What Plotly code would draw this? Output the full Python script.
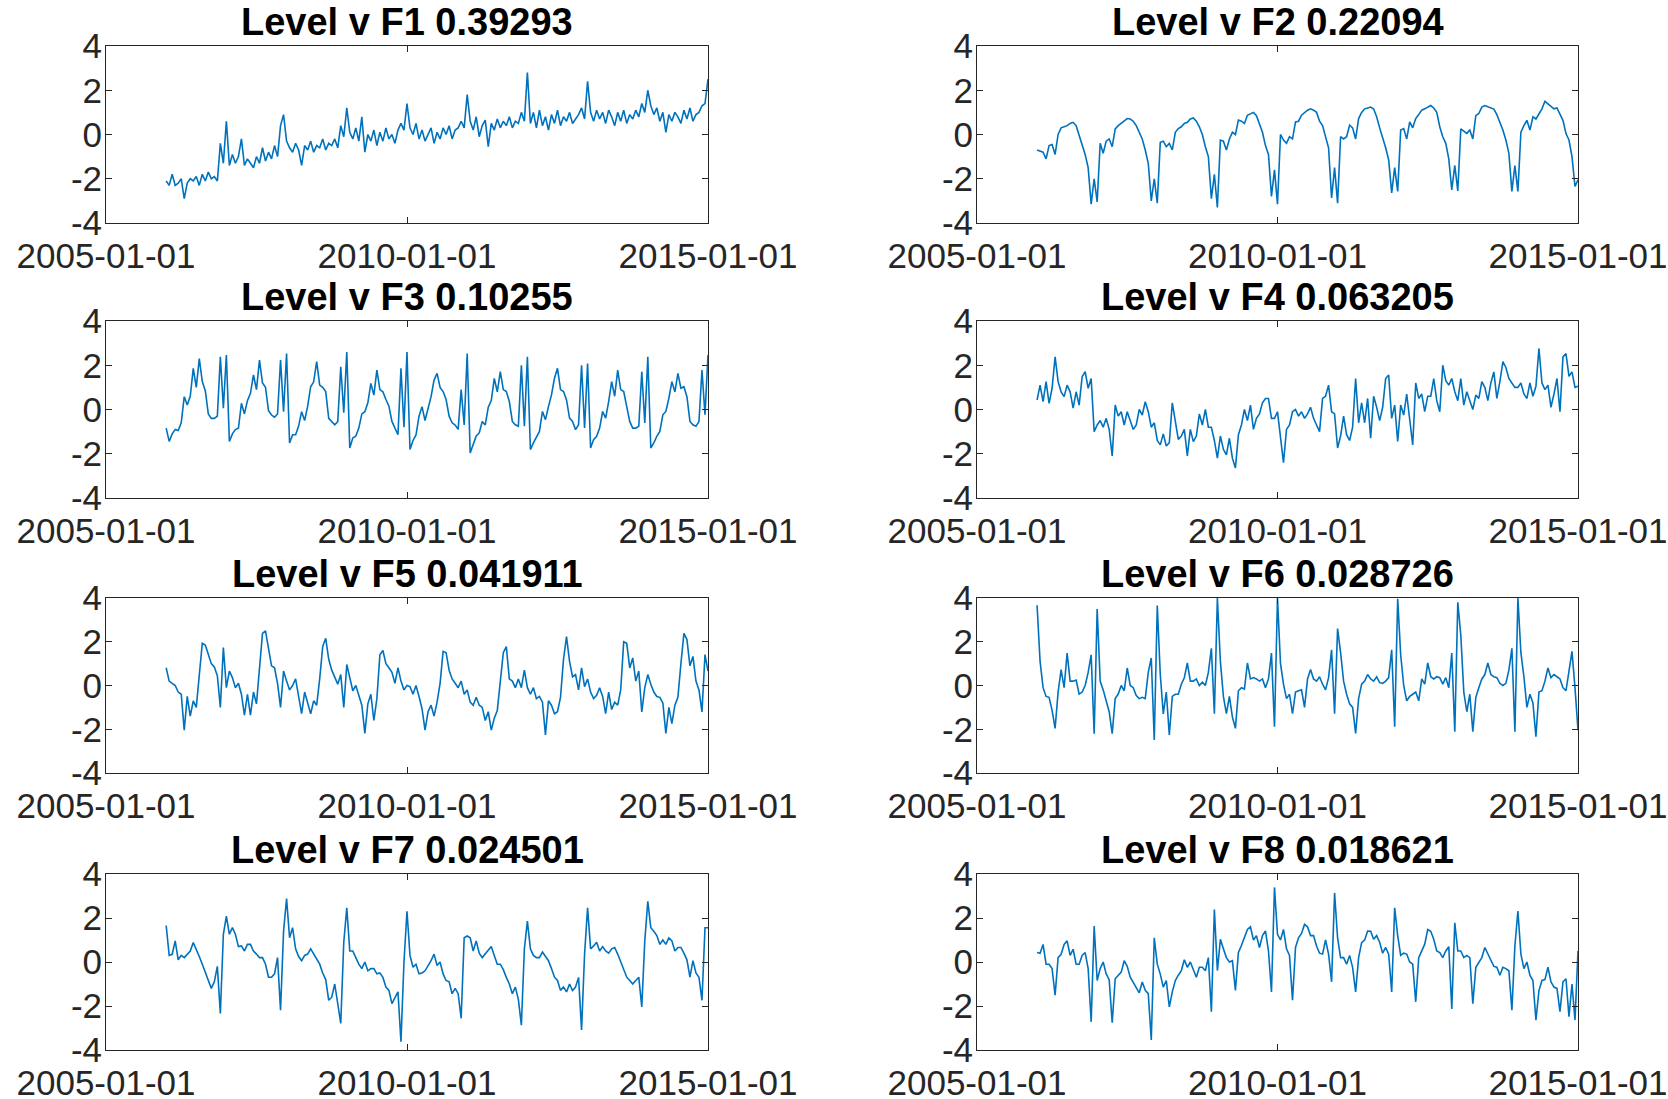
import plotly.graph_objects as go
import pandas as pd

# ---------------- data ----------------
DATA_START, DATA_END = "2006-01-01", "2015-01-01"
X_RANGE = ["2005-01-01", "2015-01-01"]
X_TICKS = ["2005-01-01", "2010-01-01", "2015-01-01"]
Y_TICKS = [-4, -2, 0, 2, 4]
Y_TICK_TEXT = ["-4", "-2", "0", "2", "4"]
TITLES = ["Level v F1 0.39293", "Level v F2 0.22094",
          "Level v F3 0.10255", "Level v F4 0.063205",
          "Level v F5 0.041911", "Level v F6 0.028726",
          "Level v F7 0.024501", "Level v F8 0.018621"]

f1 = [-2.1, -2.3, -1.8, -2.3, -2.2, -2.0, -2.9, -2.2, -2.0, -2.1, -1.9, -2.3, -1.8, -2.1, -1.7, -2.0, -1.9, -2.1, -0.4, -1.3,
      0.6, -1.4, -0.9, -1.3, -1.0, -0.2, -1.4, -1.1, -1.3, -1.5, -1.0, -1.3, -0.6, -1.2, -0.8, -1.1, -0.5, -1.0, 0.4, 0.9,
      -0.3, -0.6, -0.8, -0.4, -0.7, -1.4, -0.5, -0.7, -0.3, -0.8, -0.5, -0.6, -0.2, -0.7, -0.4, -0.5, -0.2, -0.6, 0.4, -0.1,
      1.2, 0.1, -0.2, 0.3, -0.3, 0.8, -0.8, 0.0, -0.3, 0.2, -0.5, 0.1, -0.3, 0.3, -0.2, 0.0, -0.4, 0.2, 0.5, 0.2,
      1.4, 0.3, 0.0, 0.5, -0.2, 0.2, -0.3, 0.0, 0.3, -0.4, 0.1, -0.2, 0.3, 0.0, 0.4, -0.2, 0.2, 0.3, 0.6, 0.3,
      1.8, 0.6, 0.2, 0.8, -0.1, 0.4, 0.65, -0.55, 0.5, 0.2, 0.7, 0.3, 0.6, 0.4, 0.8, 0.3, 0.6, 0.5, 1.0, 0.6,
      2.8, 0.5, 1.0, 0.3, 1.1, 0.4, 0.8, 0.2, 0.9, 0.5, 1.1, 0.4, 0.8, 0.6, 1.0, 0.5, 0.7, 0.9, 1.2, 0.7,
      2.4, 1.0, 0.6, 1.1, 0.7, 1.0, 0.5, 1.1, 0.8, 0.4, 1.0, 0.6, 1.1, 0.5, 0.9, 0.7, 1.1, 0.8, 1.4, 1.0,
      2.0, 1.3, 0.9, 1.2, 0.6, 1.0, 0.1, 0.9, 0.6, 1.0, 0.8, 0.5, 1.1, 0.7, 1.2, 0.6, 0.9, 1.0, 1.3, 1.4,
      2.5]

f2 = [-0.7, -0.75, -0.8, -1.1, -0.5, -0.45, -0.9, 0.0, 0.3, 0.35, 0.4, 0.5, 0.55, 0.4, 0.0, -0.4, -0.9, -1.5, -3.15, -2.0,
      -3.05, -0.4, -0.85, -0.3, -0.2, -0.55, 0.25, 0.4, 0.5, 0.6, 0.72, 0.7, 0.6, 0.4, 0.1, -0.2, -0.7, -1.3, -3.0, -2.0,
      -3.1, -0.35, -0.3, -0.55, -0.4, -0.7, 0.1, 0.27, 0.35, 0.5, 0.55, 0.7, 0.75, 0.6, 0.35, 0.0, -0.55, -1.0, -2.9, -1.8,
      -3.3, -0.25, -0.3, -0.7, -0.2, 0.1, 0.0, 0.65, 0.6, 0.5, 0.87, 0.95, 1.0, 0.85, 0.5, 0.1, -0.5, -0.9, -2.8, -1.6,
      -3.15, 0.0, -0.25, -0.4, -0.1, -0.2, 0.57, 0.6, 0.87, 1.0, 1.1, 1.16, 1.1, 1.0, 0.6, 0.4, -0.1, -0.6, -2.87, -1.5,
      -3.1, -0.1, -0.2, -0.1, 0.42, 0.3, -0.2, 0.72, 1.0, 1.16, 1.2, 1.24, 1.15, 0.8, 0.3, -0.1, -0.6, -1.15, -2.64, -1.5,
      -2.57, 0.2, 0.27, -0.2, 0.57, 0.3, 0.72, 0.9, 1.1, 1.16, 1.24, 1.31, 1.2, 1.0, 0.35, -0.1, -0.4, -1.1, -2.5, -1.4,
      -2.55, 0.25, 0.15, 0.05, 0.2, -0.2, 0.85, 0.95, 1.24, 1.31, 1.25, 1.2, 1.15, 0.9, 0.57, 0.2, -0.25, -0.85, -2.57, -1.4,
      -2.57, 0.1, 0.4, 0.64, 0.2, 0.8, 0.7, 0.9, 1.16, 1.5, 1.4, 1.3, 1.16, 1.2, 0.9, 0.64, 0.04, -0.25, -1.0, -2.35,
      -2.05]

f3 = [-0.84, -1.44, -1.1, -0.9, -0.95, -0.6, 0.58, 0.2, 0.6, 1.86, 1.0, 2.3, 1.26, 0.85, -0.2, -0.4, -0.4, -0.3, 2.38, 0.06,
      2.46, -1.44, -1.1, -0.91, -0.85, 0.28, -0.2, 0.4, 0.73, 1.56, 0.9, 2.23, 1.2, 1.0, -0.05, -0.25, -0.35, -0.2, 2.23, -0.1,
      2.53, -1.51, -1.14, -1.14, -0.75, -0.1, -0.5, 0.15, 1.03, 1.25, 2.16, 1.1, 1.0, 0.81, -0.4, -0.55, -0.69, -0.55, 1.93, -0.15,
      2.6, -1.74, -1.29, -1.2, -0.84, -0.2, -0.1, 0.3, 1.18, 0.65, 1.78, 0.9, 0.8, 0.45, 0.15, -0.54, -0.84, -1.14, 1.86, -0.8,
      2.6, -1.81, -1.4, -1.15, -0.3, 0.13, -0.5, 0.05, 0.58, 1.33, 1.63, 1.0, 0.81, 0.45, -0.3, -0.6, -0.7, -0.9, 0.9, -0.7,
      2.53, -1.96, -1.6, -1.2, -1.06, -0.54, -0.7, 0.1, 0.4, 1.41, 0.8, 1.71, 0.9, 0.81, 0.36, -0.54, -0.69, -0.76, 2.0, -0.76,
      2.38, -1.81, -1.51, -1.21, -0.99, -0.09, -0.46, 0.13, 0.66, 1.41, 1.86, 0.9, 0.81, 0.43, -0.39, -0.54, -0.91, -0.69, 2.0, -0.84,
      2.08, -1.74, -1.36, -1.21, -0.84, -0.09, -0.39, 0.36, 1.26, 0.6, 1.78, 0.9, 0.81, 0.13, -0.54, -0.84, -0.84, -0.76, 1.71, -0.61,
      2.38, -1.74, -1.51, -1.21, -0.99, -0.24, -0.09, 0.51, 1.26, 0.8, 1.63, 0.96, 1.03, 0.58, -0.54, -0.69, -0.76, -0.54, 1.78, -0.24,
      2.46]

f4 = [0.43, 1.1, 0.36, 1.26, 0.28, 0.96, 2.38, 1.26, 0.8, 0.58, 1.1, 0.8, 0.06, 0.8, 0.2, 1.48, 1.71, 0.96, 1.4, -1.0,
      -0.7, -0.5, -0.8, -0.4, -0.9, -2.1, 0.2, -0.3, -0.1, -0.7, -0.1, -0.55, -0.9, -0.7, 0.0, -0.25, 0.35, -0.1, -0.8, -0.6,
      -1.4, -1.6, -1.1, -1.65, -1.5, 0.3, -0.55, -1.35, -1.2, -0.9, -2.1, -0.9, -1.45, -1.2, -0.2, -0.7, 0.0, -0.8, -0.8, -1.4,
      -2.2, -1.2, -1.8, -2.05, -1.3, -2.2, -2.64, -1.14, -0.7, 0.0, -0.5, 0.2, -0.9, -0.4, -0.2, 0.3, 0.5, 0.5, -0.4, -0.4,
      -0.1, -1.3, -2.4, -0.9, -0.7, -0.1, 0.0, -0.3, -0.1, -0.4, -0.2, 0.1, -0.4, -0.7, -1.0, 0.5, 0.6, 1.1, -0.1, -0.2,
      -1.74, -1.2, -0.3, -1.14, -1.4, -0.8, 1.4, -0.6, 0.3, -0.6, 0.5, -1.3, 0.6, 0.1, -0.5, 0.1, 1.4, 1.56, -0.4, 0.2,
      -1.44, 0.2, -0.25, 0.7, -0.4, -1.6, 1.2, 0.5, 0.7, -0.1, 0.6, 0.6, 1.4, 0.4, -0.1, 2.0, 1.3, 1.1, 1.4, 0.8,
      0.4, 1.4, 0.2, 0.8, 0.4, 0.0, 0.65, 0.5, 1.26, 1.0, 0.4, 1.2, 1.7, 0.5, 1.26, 2.16, 1.9, 1.4, 1.2, 1.0,
      1.0, 1.2, 0.7, 0.5, 1.2, 0.6, 1.05, 2.76, 1.2, 0.9, 1.1, 0.1, 0.7, 1.4, -0.1, 2.38, 2.53, 1.5, 1.7, 1.0,
      1.05]

f5 = [0.81, 0.2, 0.1, 0.0, -0.3, -0.4, -2.04, -0.5, -1.4, -0.7, -1.0, 0.4, 1.93, 1.85, 1.4, 1.0, 0.85, 0.45, -1.0, 1.74,
      -0.1, 0.66, 0.36, -0.1, 0.1, -0.4, -1.36, -0.4, -1.36, -0.3, -0.84, 0.8, 2.38, 2.5, 1.6, 0.9, 0.81, 0.1, -1.0, 0.66,
      0.2, -0.2, 0.0, 0.3, -0.5, -1.29, -0.3, -0.84, -1.29, -0.7, -0.9, 0.3, 1.78, 2.16, 1.2, 0.7, 0.36, 0.06, 0.5, -1.0,
      0.96, 0.36, -0.24, 0.0, -0.4, -0.9, -2.19, -0.84, -0.4, -1.6, -0.6, 1.41, 1.6, 1.0, 0.81, 0.6, 0.1, 0.81, 0.2, -0.2,
      0.0, -0.05, -0.4, 0.0, -0.5, -1.06, -2.04, -1.2, -0.9, -1.4, -0.76, 0.1, 1.56, 1.5, 0.7, 0.3, 0.1, -0.1, 0.2, -0.4,
      -0.2, -0.76, -0.9, -0.54, -0.9, -1.0, -1.6, -1.2, -2.04, -1.5, -1.14, 0.1, 1.5, 1.78, 0.3, 0.2, -0.1, 0.3, -0.1, 0.7,
      -0.1, -0.4, -0.1, -0.6, -0.5, -0.76, -2.26, -0.7, -0.9, -1.29, -1.2, -0.54, 1.2, 2.23, 1.1, 0.4, 0.5, -0.2, 0.81, -0.05,
      0.3, -0.3, -0.6, -0.45, -0.1, -0.5, -1.29, -0.3, -1.1, -0.76, -0.9, -0.2, 2.0, 1.93, 0.8, 1.26, 0.2, 0.66, -1.21, -0.1,
      0.5, 0.06, -0.3, -0.5, -0.54, -0.8, -2.19, -1.0, -1.74, -0.9, -0.54, 1.0, 2.38, 2.1, 0.9, 1.33, 0.2, -0.2, -1.21, 1.41,
      0.66]

f6 = [3.67, 1.1, -0.1, -0.5, -0.54, -1.14, -1.96, -0.3, 0.73, -0.1, 1.48, 0.2, 0.2, 0.25, -0.4, -0.3, 0.0, 0.6, 1.4, -2.2,
      3.5, 0.2, -0.2, -0.7, -1.2, -2.2, -0.6, -0.39, 0.0, -0.24, 0.8, 0.0, -0.1, -0.46, -0.6, -0.54, -0.6, 0.6, 1.26, -2.49,
      3.66, 0.5, -1.3, -0.3, -2.26, -0.5, -0.4, -0.4, 0.06, 0.35, 1.03, 0.2, 0.2, 0.3, 0.0, 0.15, 0.0, 0.6, 1.7, -1.29,
      4.0, 1.1, -0.5, -1.29, -0.5, -1.44, -1.96, -0.24, -0.1, -0.16, 1.03, 0.3, 0.36, 0.3, 0.2, 0.3, -0.1, 0.3, 1.48, -1.89,
      4.0, 1.0, 0.06, -0.6, -0.4, -1.29, -0.3, -0.24, -0.2, -1.0, 0.3, 0.73, 0.3, 0.2, 0.4, 0.06, -0.2, 0.36, 1.63, -1.29,
      2.6, 1.5, 0.2, -0.4, -0.84, -1.0, -2.19, -0.6, 0.06, 0.2, 0.5, 0.3, 0.2, 0.4, 0.13, 0.1, 0.2, 0.36, 1.63, -1.89,
      3.96, 1.4, 0.0, -0.7, -0.5, -0.4, -0.3, -0.7, 0.3, 0.06, 1.03, 0.4, 0.3, 0.4, 0.36, 0.06, 0.36, -0.1, 1.48, -2.11,
      3.8, 2.3, -0.3, -1.2, -0.4, -2.11, -0.54, -0.1, 0.3, 0.5, 1.03, 0.5, 0.4, 0.36, 0.1, 0.0, 0.1, 0.7, 1.7, -2.11,
      4.0, 1.5, 0.4, -1.0, -0.4, -0.8, -2.34, -0.3, -0.24, 0.2, 0.8, 0.36, 0.5, 0.4, 0.3, -0.1, -0.24, 0.66, 1.56, -0.1,
      -2.04]

f7 = [1.66, 0.3, 0.35, 0.96, 0.1, 0.3, 0.2, 0.35, 0.5, 0.88, 0.6, 0.25, -0.1, -0.45, -0.8, -1.2, -0.9, -0.2, -2.34, 1.26,
      2.08, 1.26, 1.56, 1.26, 0.7, 0.73, 0.5, 0.8, 0.8, 0.5, 0.36, 0.2, 0.2, -0.1, -0.69, -0.69, -0.54, 0.2, -2.19, 1.4,
      2.88, 1.1, 1.56, 0.6, 0.25, 0.06, 0.3, 0.36, 0.6, 0.36, 0.1, -0.1, -0.5, -0.8, -1.74, -1.6, -1.0, -1.9, -2.79, 0.9,
      2.46, 0.5, 0.5, 0.2, -0.1, -0.3, 0.0, -0.4, -0.3, -0.3, -0.54, -0.5, -0.7, -1.14, -1.29, -1.89, -1.6, -1.36, -3.62, 0.0,
      2.31, 0.3, -0.24, -0.1, -0.54, -0.5, -0.4, -0.2, 0.06, 0.36, -0.16, 0.0, -0.54, -0.84, -0.9, -1.44, -1.2, -1.44, -2.56, 1.1,
      1.18, 1.1, 0.5, 0.96, 0.4, 0.2, 0.36, 0.5, 0.7, 0.3, -0.1, -0.1, -0.35, -0.7, -1.0, -1.44, -1.14, -1.7, -2.87, 0.6,
      1.86, 0.6, 0.3, 0.2, 0.2, 0.45, 0.25, 0.06, -0.3, -0.69, -0.84, -1.29, -1.14, -1.36, -1.0, -1.3, -1.14, -0.7, -3.09, 0.36,
      2.46, 0.6, 0.73, 0.9, 0.5, 0.7, 0.5, 0.4, 0.6, 0.66, 0.36, 0.0, -0.3, -0.69, -0.84, -1.0, -0.84, -0.69, -2.04, 0.96,
      2.76, 1.56, 1.4, 1.2, 0.8, 1.0, 0.8, 1.1, 0.96, 0.5, 0.66, 0.66, 0.4, 0.1, -0.69, 0.06, -0.5, -0.69, -1.74, 1.56,
      1.56]

f8 = [0.43, 0.4, 0.8, -0.1, -0.1, -0.3, -1.51, 0.2, 0.35, 0.8, 0.96, 0.3, 0.58, -0.1, -0.1, 0.3, 0.43, -0.3, -2.72, 1.63,
      -0.84, -0.3, 0.0, -0.54, -0.8, -2.76, -0.76, -0.6, -0.46, 0.06, -0.2, -0.69, -0.95, -1.14, -1.4, -0.91, -1.29, -1.44, -3.54, 1.1,
      -0.1, -0.55, -1.14, -0.84, -2.04, -1.36, -0.84, -0.6, -0.39, 0.1, -0.24, 0.0, -0.39, -0.69, -0.24, -0.24, -0.4, 0.2, -2.26, 2.38,
      -0.39, 1.03, 0.6, 0.2, 0.0, 0.06, -1.29, 0.43, 0.75, 1.1, 1.48, 1.6, 1.0, 1.2, 0.66, 1.2, 1.41, 0.5, -1.36, 3.39,
      1.26, 1.0, 1.48, 0.6, 0.3, -1.74, 0.66, 1.1, 1.3, 1.71, 1.6, 1.2, 1.2, 0.73, 0.4, 0.36, 1.0, 0.36, -0.9, 3.14,
      1.1, 0.2, 0.2, -0.1, 0.3, -0.24, -1.36, 0.2, 0.88, 1.0, 1.41, 1.4, 1.03, 1.2, 0.9, 0.4, 0.66, 0.36, -1.36, 2.46,
      1.2, 0.3, 0.4, 0.36, 0.0, -0.1, -1.81, 0.2, 0.5, 0.81, 1.48, 1.4, 1.03, 0.5, 0.43, 0.2, 0.5, 0.7, -2.14, 1.78,
      0.5, 0.5, 0.2, 0.3, 0.2, -1.89, -0.24, 0.0, 0.2, 0.66, 0.36, 0.06, -0.2, -0.24, -0.6, -0.24, -0.3, -0.4, -2.19, 0.73,
      2.31, 0.36, -0.3, 0.0, -0.6, -0.84, -2.64, -1.3, -0.84, -0.8, -0.24, -0.9, -1.14, -1.2, -2.26, -0.9, -0.76, -2.49, -1.0, -2.64,
      0.5]

SERIES = [f1, f2, f3, f4, f5, f6, f7, f8]

# ---------------- layout / style ----------------
W, H = 1668, 1099
COLS_PX = [(106, 708), (977, 1578)]
ROWS_PX = [(46, 223), (321, 498), (598, 773), (874, 1050)]
LINE_COLOR = "#0072BD"
AX_COLOR = "#262626"
FONT = "Liberation Sans, Arial, Helvetica, sans-serif"

fig = go.Figure()
annotations = []
for i, (vals, title) in enumerate(zip(SERIES, TITLES)):
    r, c = divmod(i, 2)
    sfx = "" if i == 0 else str(i + 1)
    dates = pd.date_range(DATA_START, DATA_END, periods=len(vals))
    fig.add_trace(go.Scatter(x=dates, y=vals, mode="lines",
                             line=dict(color=LINE_COLOR, width=1.6),
                             xaxis="x" + sfx, yaxis="y" + sfx,
                             showlegend=False, hoverinfo="x+y"))
    x0, x1 = COLS_PX[c]
    top, bot = ROWS_PX[r]
    fig.layout["xaxis" + sfx] = dict(
        domain=[x0 / W, x1 / W], anchor="y" + sfx, type="date",
        range=X_RANGE, tickmode="array", tickvals=X_TICKS, ticktext=X_TICKS,
        ticks="inside", ticklen=6, tickwidth=1, tickcolor=AX_COLOR,
        showline=True, linecolor=AX_COLOR, linewidth=1, mirror="ticks",
        showgrid=False, zeroline=False, ticklabelstandoff=2,
        automargin=False,
        tickfont=dict(family=FONT, size=35, color=AX_COLOR))
    fig.layout["yaxis" + sfx] = dict(
        domain=[1 - bot / H, 1 - top / H], anchor="x" + sfx,
        range=[-4, 4], tickmode="array", tickvals=Y_TICKS, ticktext=Y_TICK_TEXT,
        ticks="inside", ticklen=6, tickwidth=1, tickcolor=AX_COLOR,
        showline=True, linecolor=AX_COLOR, linewidth=1, mirror="ticks",
        showgrid=False, zeroline=False, automargin=False,
        ticklabelstandoff=-4,
        tickfont=dict(family=FONT, size=35, color=AX_COLOR))
    annotations.append(dict(
        text="<b>" + title + "</b>", xref="paper", yref="paper",
        x=(x0 + x1) / 2 / W, y=1 - (top - 24) / H,
        xanchor="center", yanchor="middle", showarrow=False,
        font=dict(family=FONT, size=38, color="black")))

fig.update_layout(width=W, height=H, margin=dict(l=0, r=0, t=0, b=0, autoexpand=False),
                  paper_bgcolor="white", plot_bgcolor="white",
                  annotations=annotations, showlegend=False)

fig.write_html("out.html")
